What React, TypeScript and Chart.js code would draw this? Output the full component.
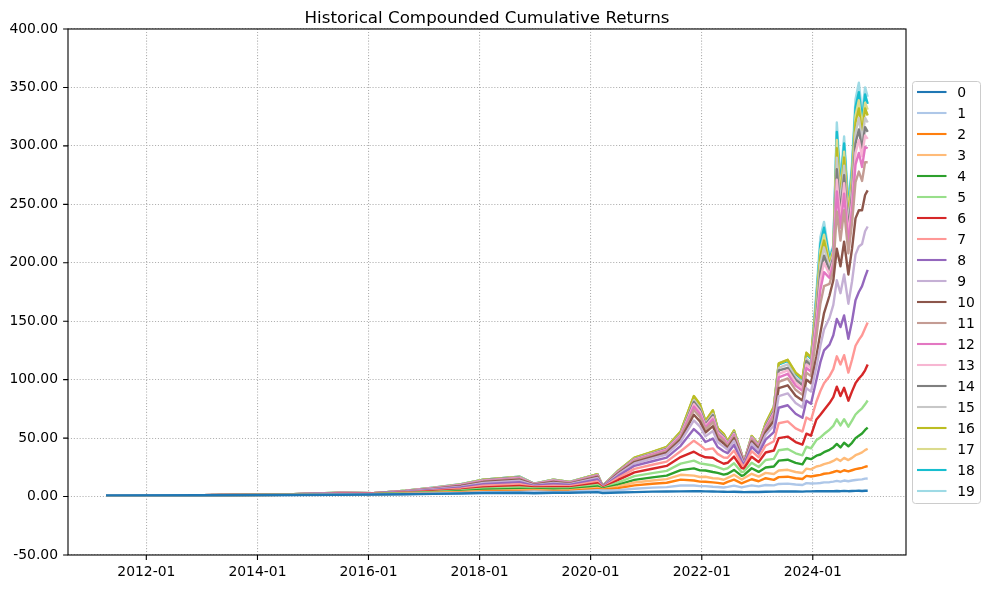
import React, { useEffect, useRef } from 'react';
import { Chart, registerables } from 'chart.js';

Chart.register(...registerables);

const chartTitle = 'Historical Compounded Cumulative Returns';

const dates = [
  '2011-04-11', '2013-01-01', '2014-07-01', '2015-07-01', '2016-02-01', '2016-09-01', '2017-03-01', '2017-09-01', '2018-01-25', '2018-09-20',
  '2018-12-24', '2019-05-01', '2019-08-15', '2020-02-15', '2020-03-20', '2020-07-01', '2020-10-15', '2021-02-10', '2021-05-15', '2021-08-15',
  '2021-11-10', '2021-12-20', '2022-01-25', '2022-03-15', '2022-04-15', '2022-05-25', '2022-06-20', '2022-08-01', '2022-09-20', '2022-10-05',
  '2022-11-25', '2023-01-10', '2023-02-25', '2023-04-20', '2023-05-22', '2023-07-20', '2023-09-10', '2023-10-25', '2023-11-20', '2023-12-20',
  '2024-01-25', '2024-02-20', '2024-03-15', '2024-04-20', '2024-05-15', '2024-06-07', '2024-07-01', '2024-07-25', '2024-08-22', '2024-09-15',
  '2024-10-08', '2024-10-30', '2024-11-20', '2024-12-10', '2024-12-27',
];

const s0 = [1.0, 1.1, 1.3, 1.6, 1.7, 2.0, 2.3, 2.6, 3.0, 3.2, 2.8, 3.2, 3.2, 3.8, 3.0, 3.5, 3.8, 4.2, 4.3, 4.4, 4.6, 4.5, 4.4, 4.3, 4.2, 4.1, 4.0, 4.1, 3.9, 3.8, 4.0, 3.9, 4.1, 4.2, 4.3, 4.4, 4.3, 4.2, 4.4, 4.4, 4.5, 4.6, 4.6, 4.5, 4.6, 4.8, 4.6, 4.9, 4.6, 4.8, 4.9, 5.0, 4.8, 5.0, 5.0];
const s1 = [1.0, 1.1, 1.3, 1.7, 1.8, 2.2, 2.6, 3.1, 3.7, 4.0, 4.3, 3.9, 4.2, 5.4, 5.2, 5.4, 6.7, 7.6, 8.1, 9.5, 9.4, 8.9, 8.9, 8.4, 8.2, 7.8, 8.3, 9.3, 7.8, 8.3, 9.6, 8.7, 9.9, 9.6, 10.8, 11.1, 10.3, 9.9, 11.5, 11.2, 11.3, 11.6, 12.1, 12.3, 12.8, 13.4, 12.8, 13.7, 13.1, 13.7, 14.2, 14.5, 14.7, 15.3, 15.5];
const s2 = [1.0, 1.1, 1.4, 1.8, 1.9, 2.3, 2.9, 3.5, 4.3, 4.8, 5.0, 4.5, 4.8, 6.5, 5.8, 7.2, 9.6, 11.0, 11.8, 14.5, 13.7, 12.8, 12.7, 12.1, 11.7, 11.0, 12.6, 14.5, 11.3, 12.1, 14.8, 13.1, 15.7, 14.3, 16.6, 17.0, 15.7, 15.0, 17.7, 17.2, 18.0, 18.5, 19.5, 20.0, 21.0, 22.0, 21.0, 22.5, 21.5, 22.5, 23.5, 24.0, 24.5, 25.5, 26.0];
const s3 = [1.0, 1.1, 1.4, 1.9, 2.0, 2.5, 3.2, 3.9, 4.9, 5.5, 5.6, 5.1, 5.4, 7.4, 6.2, 8.7, 12.0, 13.7, 14.9, 18.6, 17.9, 16.7, 16.9, 15.7, 15.5, 14.4, 16.0, 18.6, 14.5, 15.6, 19.5, 17.1, 20.3, 19.3, 22.3, 22.9, 21.0, 20.1, 23.9, 23.3, 25.7, 26.4, 27.8, 29.0, 30.5, 32.4, 30.5, 33.1, 31.2, 33.1, 35.4, 36.6, 37.8, 39.7, 40.9];
const s4 = [1.0, 1.1, 1.4, 2.0, 2.1, 2.7, 3.6, 4.5, 5.8, 6.6, 6.3, 6.0, 6.2, 8.7, 6.7, 10.2, 14.3, 16.4, 17.9, 22.6, 24.1, 22.4, 22.3, 21.0, 20.3, 18.8, 19.5, 22.8, 17.7, 18.4, 24.2, 21.1, 24.9, 25.7, 30.7, 31.5, 28.8, 27.5, 33.0, 32.0, 35.0, 36.0, 38.0, 40.0, 42.0, 45.0, 42.0, 46.0, 43.0, 46.0, 50.0, 52.0, 54.0, 57.0, 59.0];
const s5 = [1.0, 1.1, 1.5, 2.1, 2.2, 3.0, 4.0, 5.2, 6.7, 7.7, 7.0, 6.9, 7.0, 10.0, 7.1, 12.2, 17.5, 20.1, 22.0, 28.2, 30.7, 28.4, 27.6, 26.6, 25.2, 23.2, 24.2, 28.5, 20.9, 21.4, 28.9, 25.2, 31.3, 32.2, 39.6, 40.7, 37.0, 35.3, 42.6, 41.3, 48.3, 50.6, 53.5, 57.2, 60.5, 66.1, 60.9, 66.2, 59.8, 64.9, 70.2, 73.1, 75.5, 78.9, 82.2];
const s6 = [1.0, 1.1, 1.5, 2.3, 2.3, 3.3, 4.5, 5.9, 7.8, 9.0, 7.7, 7.9, 7.9, 11.4, 7.4, 14.2, 20.7, 23.8, 26.2, 33.8, 38.4, 35.4, 33.6, 33.2, 30.6, 28.1, 28.9, 34.2, 24.4, 24.0, 34.1, 29.6, 37.7, 39.4, 50.0, 51.3, 46.6, 44.4, 53.8, 52.1, 66.0, 70.0, 74.0, 80.0, 85.0, 94.0, 86.0, 93.0, 82.0, 90.0, 97.0, 101, 104, 108, 113];
const s7 = [1.0, 1.2, 1.6, 2.5, 2.4, 3.6, 5.1, 6.8, 9.2, 10.6, 8.5, 9.3, 8.9, 13.0, 7.8, 16.1, 23.7, 27.2, 29.9, 38.8, 47.8, 44.0, 40.2, 41.2, 36.5, 33.4, 33.2, 39.4, 27.7, 25.7, 38.8, 33.6, 43.5, 47.3, 62.7, 64.3, 58.4, 55.6, 67.6, 65.4, 81.3, 90.3, 97.0, 103, 109, 120, 113, 121, 106, 117, 129, 134, 138, 144, 149];
const s8 = [1.0, 1.2, 1.6, 2.7, 2.6, 4.0, 5.7, 7.8, 10.6, 12.3, 9.2, 10.7, 9.9, 14.7, 8.2, 17.7, 26.3, 30.2, 33.3, 43.4, 57.7, 53.0, 46.7, 49.6, 42.4, 38.8, 37.1, 44.1, 30.2, 27.0, 42.5, 36.8, 48.7, 55.2, 76.0, 78.1, 70.8, 67.4, 82.0, 79.4, 100, 115, 125, 130, 138, 152, 145, 155, 135, 150, 168, 175, 180, 188, 194];
const s9 = [1.0, 1.2, 1.7, 2.8, 2.7, 4.3, 6.2, 8.5, 11.6, 13.6, 9.7, 11.7, 10.6, 15.9, 8.4, 19.0, 28.3, 32.6, 36.0, 46.9, 65.1, 59.8, 51.5, 56.0, 46.7, 42.7, 40.1, 47.7, 32.2, 27.7, 45.4, 39.2, 52.7, 60.9, 86.0, 88.3, 80.0, 76.2, 92.8, 89.8, 111, 129, 143, 153, 164, 185, 174, 190, 165, 184, 207, 214, 216, 227, 231];
const s10 = [1.0, 1.2, 1.7, 2.9, 2.7, 4.4, 6.5, 9.0, 12.4, 14.4, 10.1, 12.4, 11.1, 16.7, 8.6, 19.8, 29.5, 33.9, 37.5, 48.9, 70.0, 64.3, 54.8, 60.2, 49.7, 45.4, 41.8, 49.8, 33.4, 28.2, 47.2, 40.8, 55.1, 64.9, 92.8, 95.2, 86.3, 82.2, 100, 96.9, 120, 140, 157, 172, 185, 212, 197, 218, 190, 212, 238, 245, 245, 258, 262];
const s11 = [1.0, 1.2, 1.7, 3.0, 2.8, 4.6, 6.8, 9.4, 12.9, 15.1, 10.3, 13.0, 11.5, 17.3, 8.7, 20.3, 30.4, 35.0, 38.6, 50.4, 74.1, 68.0, 57.4, 63.7, 52.1, 47.6, 43.1, 51.3, 34.4, 28.5, 48.7, 42.0, 56.8, 68.1, 98.2, 101, 91.3, 87.0, 106, 103, 137, 165, 180, 182, 194, 244, 219, 245, 208, 234, 269, 278, 270, 286, 286];
const s12 = [1.0, 1.2, 1.8, 3.0, 2.8, 4.7, 7.0, 9.7, 13.4, 15.6, 10.5, 13.4, 11.8, 17.8, 8.8, 20.8, 31.1, 35.8, 39.6, 51.7, 77.0, 70.7, 59.2, 66.1, 53.7, 49.1, 44.2, 52.6, 35.0, 28.7, 49.6, 42.8, 58.2, 70.3, 102, 105, 94.9, 90.4, 110, 107, 145, 177, 192, 187, 199, 261, 230, 259, 217, 245, 284, 294, 282, 299, 298];
const s13 = [1.0, 1.2, 1.8, 3.1, 2.8, 4.8, 7.1, 9.9, 13.6, 16.0, 10.6, 13.7, 11.9, 18.1, 8.8, 21.1, 31.5, 36.3, 40.1, 52.5, 79.0, 72.5, 60.4, 67.9, 54.8, 50.1, 44.9, 53.4, 35.4, 29.0, 50.1, 43.2, 59.1, 71.7, 105, 108, 97.5, 92.8, 113, 110, 150, 185, 200, 190, 202, 271, 237, 268, 223, 252, 294, 305, 291, 309, 306];
const s14 = [1.0, 1.2, 1.8, 3.1, 2.9, 4.9, 7.2, 10.1, 13.9, 16.3, 10.8, 13.9, 12.1, 18.4, 8.9, 21.4, 32.0, 36.8, 40.7, 53.2, 81.0, 74.3, 61.6, 69.6, 55.9, 51.0, 45.5, 54.2, 35.7, 29.0, 50.5, 43.6, 60.0, 73.1, 108, 110, 100, 95.2, 116, 112, 155, 192, 206, 193, 204, 280, 243, 275, 228, 258, 302, 314, 297, 316, 312];
const s15 = [1.0, 1.2, 1.8, 3.2, 2.9, 4.9, 7.3, 10.3, 14.1, 16.6, 10.8, 14.2, 12.3, 18.6, 8.9, 21.5, 32.3, 37.2, 41.1, 53.7, 82.5, 75.7, 62.5, 70.9, 56.7, 51.8, 45.9, 54.7, 36.0, 29.3, 51.0, 44.0, 60.6, 74.2, 110, 113, 102, 97.0, 118, 114, 160, 199, 213, 196, 207, 290, 250, 283, 233, 265, 311, 324, 305, 324, 320];
const s16 = [1.0, 1.2, 1.8, 3.2, 2.9, 5.0, 7.4, 10.4, 14.4, 16.8, 10.9, 14.4, 12.4, 19.2, 9.0, 22.2, 33.3, 38.3, 42.4, 55.5, 86.0, 78.9, 64.7, 73.8, 58.6, 53.6, 47.4, 56.5, 36.6, 29.5, 51.9, 44.8, 62.6, 76.9, 114, 117, 106, 101, 123, 119, 164, 206, 219, 198, 209, 298, 255, 290, 238, 270, 320, 332, 311, 332, 326];
const s17 = [1.0, 1.2, 1.8, 3.2, 2.9, 5.0, 7.5, 10.5, 14.4, 16.9, 11.0, 14.4, 12.5, 19.1, 9.0, 22.1, 33.2, 38.2, 42.2, 55.3, 85.6, 78.6, 64.5, 73.6, 58.4, 53.4, 47.3, 56.3, 36.5, 29.5, 51.7, 44.6, 62.3, 76.6, 114, 117, 106, 101, 123, 119, 167, 211, 224, 200, 211, 305, 260, 295, 242, 275, 326, 339, 316, 337, 331];
const s18 = [1.0, 1.2, 1.8, 3.2, 2.9, 5.0, 7.5, 10.5, 14.5, 17.0, 11.0, 14.5, 12.5, 19.1, 9.0, 22.1, 33.1, 38.1, 42.1, 55.2, 85.3, 78.3, 64.2, 73.3, 58.2, 53.2, 47.1, 56.2, 36.3, 29.3, 51.5, 44.4, 62.2, 76.3, 113, 116, 105, 100, 122, 118, 171, 216, 230, 203, 213, 312, 265, 302, 246, 280, 333, 346, 322, 344, 336];
const s19 = [1.0, 1.2, 1.8, 3.2, 2.9, 5.0, 7.5, 10.5, 14.5, 17.0, 11.0, 14.5, 12.5, 19.0, 9.0, 22.0, 33.0, 38.0, 42.0, 55.0, 85.0, 78.0, 64.0, 73.0, 58.0, 53.0, 47.0, 56.0, 36.0, 29.0, 51.0, 44.0, 62.0, 76.0, 113, 116, 105, 100, 122, 118, 175, 222, 235, 205, 215, 320, 270, 308, 250, 285, 340, 354, 328, 350, 342];

const seriesValues = [s0, s1, s2, s3, s4, s5, s6, s7, s8, s9, s10, s11, s12, s13, s14, s15, s16, s17, s18, s19];
const seriesLabels = ['0', '1', '2', '3', '4', '5', '6', '7', '8', '9', '10', '11', '12', '13', '14', '15', '16', '17', '18', '19'];
const seriesColors = [
  '#1f77b4', '#aec7e8', '#ff7f0e', '#ffbb78', '#2ca02c', '#98df8a', '#d62728', '#ff9896', '#9467bd', '#c5b0d5',
  '#8c564b', '#c49c94', '#e377c2', '#f7b6d2', '#7f7f7f', '#c7c7c7', '#bcbd22', '#dbdb8d', '#17becf', '#9edae5',
];

const yTicks = [-50, 0, 50, 100, 150, 200, 250, 300, 350, 400];
const xTickDates = ['2012-01-01', '2014-01-01', '2016-01-01', '2018-01-01', '2020-01-01', '2022-01-01', '2024-01-01'];
const xRange = ['2010-08-04', '2025-09-05'];

const FONT = "'DejaVu Sans', 'Liberation Sans', sans-serif";

const toMs = (d: string) => Date.parse(d + 'T00:00:00Z');
const fmtMonth = (v: number) => {
  const d = new Date(v);
  const m = d.getUTCMonth() + 1;
  return `${d.getUTCFullYear()}-${m < 10 ? '0' + m : m}`;
};

const decorPlugin = {
  id: 'decor',
  afterDatasetsDraw(chart: any) {
    const { ctx, chartArea } = chart;
    const { left, right, top, bottom } = chartArea;
    const xs = chart.scales.x;
    const ys = chart.scales.y;
    ctx.save();
    ctx.strokeStyle = '#000';
    ctx.lineWidth = 1.1;
    ctx.setLineDash([]);
    ctx.strokeRect(left, top, right - left, bottom - top);
    ctx.beginPath();
    for (const v of yTicks) {
      const y = ys.getPixelForValue(v);
      ctx.moveTo(left - 4.9, y);
      ctx.lineTo(left, y);
    }
    for (const d of xTickDates) {
      const x = xs.getPixelForValue(toMs(d));
      ctx.moveTo(x, bottom);
      ctx.lineTo(x, bottom + 4.9);
    }
    ctx.stroke();
    ctx.restore();
  },
  afterDraw(chart: any) {
    const { ctx, chartArea } = chart;
    ctx.save();
    ctx.fillStyle = '#000';
    ctx.font = `16.7px ${FONT}`;
    ctx.textAlign = 'center';
    ctx.textBaseline = 'alphabetic';
    ctx.fillText(chartTitle, (chartArea.left + chartArea.right) / 2, 22.5);
    const bx = 912.5, by = 81.5, bw = 68, bh = 422, r = 3;
    ctx.beginPath();
    ctx.moveTo(bx + r, by);
    ctx.lineTo(bx + bw - r, by);
    ctx.arcTo(bx + bw, by, bx + bw, by + r, r);
    ctx.lineTo(bx + bw, by + bh - r);
    ctx.arcTo(bx + bw, by + bh, bx + bw - r, by + bh, r);
    ctx.lineTo(bx + r, by + bh);
    ctx.arcTo(bx, by + bh, bx, by + bh - r, r);
    ctx.lineTo(bx, by + r);
    ctx.arcTo(bx, by, bx + r, by, r);
    ctx.closePath();
    ctx.fillStyle = 'rgba(255,255,255,0.8)';
    ctx.fill();
    ctx.strokeStyle = '#cccccc';
    ctx.lineWidth = 1;
    ctx.stroke();
    ctx.font = `13.9px ${FONT}`;
    ctx.textAlign = 'left';
    ctx.textBaseline = 'middle';
    seriesLabels.forEach((lab, i) => {
      const y = 92 + i * 21;
      ctx.strokeStyle = seriesColors[i];
      ctx.lineWidth = 2.1;
      ctx.beginPath();
      ctx.moveTo(917, y);
      ctx.lineTo(946.5, y);
      ctx.stroke();
      ctx.fillStyle = '#000';
      ctx.fillText(lab, 957.2, y + 1);
    });
    ctx.restore();
  },
};

export default function App() {
  const ref = useRef<HTMLCanvasElement | null>(null);

  useEffect(() => {
    if (!ref.current) return;
    Chart.defaults.font.family = FONT;
    const xVals = dates.map(toMs);
    const datasets = seriesValues.map((vals, i) => ({
      label: seriesLabels[i],
      data: vals.map((v, j) => ({ x: xVals[j], y: v })),
      borderColor: seriesColors[i],
      backgroundColor: seriesColors[i],
      borderWidth: 2.4,
      borderJoinStyle: 'round' as const,
      pointRadius: 0,
      tension: 0,
      fill: false,
    }));
    const chart = new Chart(ref.current, {
      type: 'line',
      data: { datasets },
      options: {
        animation: false,
        responsive: false,
        events: [],
        layout: { padding: { top: 29, right: 98, bottom: 0, left: 0 } },
        plugins: {
          legend: { display: false },
          title: { display: false },
          tooltip: { enabled: false },
        },
        scales: {
          x: {
            type: 'linear',
            min: toMs(xRange[0]),
            max: toMs(xRange[1]),
            afterBuildTicks: (scale: any) => {
              scale.ticks = xTickDates.map((d) => ({ value: toMs(d) }));
            },
            afterFit: (scale: any) => {
              scale.height = 34;
            },
            grid: { color: '#b0b0b0', lineWidth: 1.1, drawTicks: false },
            border: { display: false, dash: [1.1, 1.8] },
            ticks: {
              autoSkip: false,
              maxRotation: 0,
              minRotation: 0,
              padding: 9,
              color: '#000',
              font: { size: 13.9, family: FONT },
              callback: (v: any) => fmtMonth(Number(v)),
            },
          },
          y: {
            type: 'linear',
            min: -50,
            max: 400,
            afterBuildTicks: (scale: any) => {
              scale.ticks = yTicks.map((v) => ({ value: v }));
            },
            afterFit: (scale: any) => {
              scale.width = 68;
            },
            grid: { color: '#b0b0b0', lineWidth: 1.1, drawTicks: false },
            border: { display: false, dash: [1.1, 1.8] },
            ticks: {
              padding: 10,
              color: '#000',
              font: { size: 13.9, family: FONT },
              callback: (v: any) => Number(v).toFixed(2),
            },
          },
        },
      },
      plugins: [decorPlugin],
    });
    return () => chart.destroy();
  }, []);

  return (
    <div style={{ position: 'absolute', left: 0, top: 0, width: 1004, height: 589, background: '#fff' }}>
      <canvas ref={ref} width={1004} height={589} style={{ display: 'block', width: 1004, height: 589 }} />
    </div>
  );
}
